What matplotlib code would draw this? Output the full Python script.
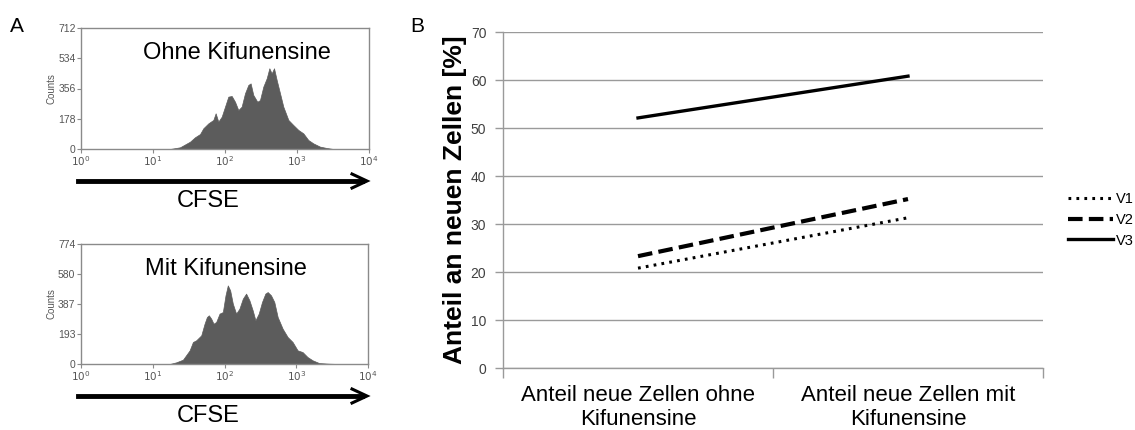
import numpy as np
import matplotlib.pyplot as plt

plt.rcParams['font.family'] = ['Liberation Sans', 'DejaVu Sans']

# --- panel A: CFSE histograms (log10 CFSE, counts)
ohne_log = [1.236, 1.375, 1.514, 1.583, 1.653, 1.699, 1.769, 1.838, 1.870, 1.907,
            1.954, 2.000, 2.046, 2.093, 2.139, 2.185, 2.231, 2.278, 2.324, 2.356,
            2.393, 2.449, 2.486, 2.532, 2.579, 2.616, 2.648, 2.681, 2.718, 2.764,
            2.810, 2.880, 2.949, 3.019, 3.088, 3.157, 3.227, 3.319, 3.412, 3.505]
ohne_counts = [0, 10, 43, 69, 88, 122, 151, 171, 210, 161,
               190, 249, 308, 312, 278, 229, 249, 328, 377, 386,
               318, 278, 288, 367, 416, 475, 445, 475, 406, 328,
               249, 171, 141, 112, 92, 53, 33, 14, 6, 0]

mit_log = [1.236, 1.329, 1.421, 1.514, 1.560, 1.606, 1.676, 1.722, 1.755, 1.782,
           1.815, 1.847, 1.884, 1.931, 1.977, 2.014, 2.046, 2.079, 2.116, 2.162,
           2.208, 2.255, 2.301, 2.347, 2.393, 2.431, 2.477, 2.523, 2.569, 2.602,
           2.648, 2.694, 2.741, 2.810, 2.880, 2.949, 3.019, 3.088, 3.157, 3.227,
           3.319, 3.458, 3.597]
mit_counts = [0, 11, 28, 88, 142, 153, 185, 260, 303, 314,
              292, 260, 271, 325, 335, 443, 507, 475, 389, 325,
              357, 421, 454, 411, 346, 282, 325, 400, 454, 464,
              443, 400, 303, 228, 174, 142, 88, 77, 45, 24,
              6, 2, 0]

ohne_yticks = [0, 178, 356, 534, 712]
mit_yticks = [0, 193, 387, 580, 774]

# --- panel B: share of new cells
categories = ['Anteil neue Zellen ohne\nKifunensine', 'Anteil neue Zellen mit\nKifunensine']
v1 = [20.8, 31.3]
v2 = [23.3, 35.2]
v3 = [52.1, 60.8]

W, H = 1135, 430
fig = plt.figure(figsize=(W / 100, H / 100), dpi=100)

def fx(px):
    return px / W

def fy(py):
    return 1 - py / H

frame = '#8a8a8a'
hist_col = '#5c5c5c'

def histo(rect, logx, counts, yticks, title, title_x, title_y, arrow_y, cfse_y):
    ax = fig.add_axes(rect)
    ax.fill_between(10 ** np.array(logx), counts, 0, color=hist_col, lw=0.5, ec=hist_col)
    ax.set_xscale('log')
    ax.set_xlim(1, 1e4)
    ax.set_ylim(0, yticks[-1])
    ax.set_yticks(yticks)
    ax.set_yticklabels([str(t) for t in yticks])
    ax.set_xticks([1, 10, 100, 1000, 10000])
    ax.set_xticklabels(['$10^{0}$', '$10^{1}$', '$10^{2}$', '$10^{3}$', '$10^{4}$'])
    ax.minorticks_off()
    ax.tick_params(axis='both', labelsize=7.5, colors='#555555', length=3, width=0.8, pad=1)
    ax.tick_params(axis='both', color=frame)
    for s in ax.spines.values():
        s.set_color(frame)
        s.set_linewidth(1)
    ax.set_ylabel('Counts', fontsize=7, color='#555555', labelpad=1)
    fig.text(fx(title_x), fy(title_y), title, fontsize=17, ha='center', va='center')
    fig.add_artist(plt.Line2D([fx(78), fx(362)], [fy(arrow_y), fy(arrow_y)],
                              color='black', lw=3.5, transform=fig.transFigure))
    fig.add_artist(plt.Line2D([fx(352), fx(367), fx(352)],
                              [fy(arrow_y - 7), fy(arrow_y), fy(arrow_y + 7)],
                              color='black', lw=2.2, transform=fig.transFigure,
                              solid_joinstyle='miter'))
    fig.text(fx(208), fy(cfse_y), 'CFSE', fontsize=17, ha='center', va='center')
    return ax

histo([fx(81), fy(149), fx(288), 121 / H], ohne_log, ohne_counts, ohne_yticks,
      'Ohne Kifunensine', 237, 53, 181, 201)
histo([fx(81), fy(364), fx(287), 120 / H], mit_log, mit_counts, mit_yticks,
      'Mit Kifunensine', 226, 269, 396, 416)

fig.text(fx(17), fy(26), 'A', fontsize=15, ha='center', va='center')
fig.text(fx(417), fy(27), 'B', fontsize=15, ha='center', va='center')

# --- panel B
axb = fig.add_axes([fx(503), fy(368), fx(540), 336 / H])
x = np.arange(len(categories))
axb.plot(x, v1, color='black', lw=2.2, ls=(0, (0.9, 1.7)), label='V1')
axb.plot(x, v2, color='black', lw=3, ls=(0, (3.5, 1.5)), label='V2')
axb.plot(x, v3, color='black', lw=2.4, ls='-', label='V3')
axb.set_xlim(-0.5, 1.5)
axb.set_ylim(0, 70)
axb.set_yticks(range(0, 71, 10))
axb.yaxis.grid(True, color='#9a9a9a', lw=1)
axb.set_axisbelow(True)
axb.set_xticks(x)
axb.set_xticklabels(categories, fontsize=16, linespacing=1.2)
axb.set_xticks([-0.5, 0.5, 1.5], minor=True)
axb.tick_params(axis='x', which='major', length=0, pad=12)
axb.tick_params(axis='x', which='minor', length=7, color='#9a9a9a', width=1)
axb.tick_params(axis='y', length=6, color='#9a9a9a', width=1, labelsize=10,
                labelcolor='#404040', pad=6)
for side in ['top', 'right']:
    axb.spines[side].set_visible(False)
for side in ['left', 'bottom']:
    axb.spines[side].set_color('#9a9a9a')
    axb.spines[side].set_linewidth(1)
axb.set_ylabel('Anteil an neuen Zellen [%]', fontsize=19, fontweight='bold', labelpad=3)
axb.legend(loc='center left', bbox_to_anchor=(fx(1062), fy(220)), bbox_transform=fig.transFigure,
           frameon=False, fontsize=10.5, handlelength=3.1, handletextpad=0.2,
           labelspacing=0.45, borderaxespad=0)

fig.savefig('out.png', dpi=100)
plt.close()
